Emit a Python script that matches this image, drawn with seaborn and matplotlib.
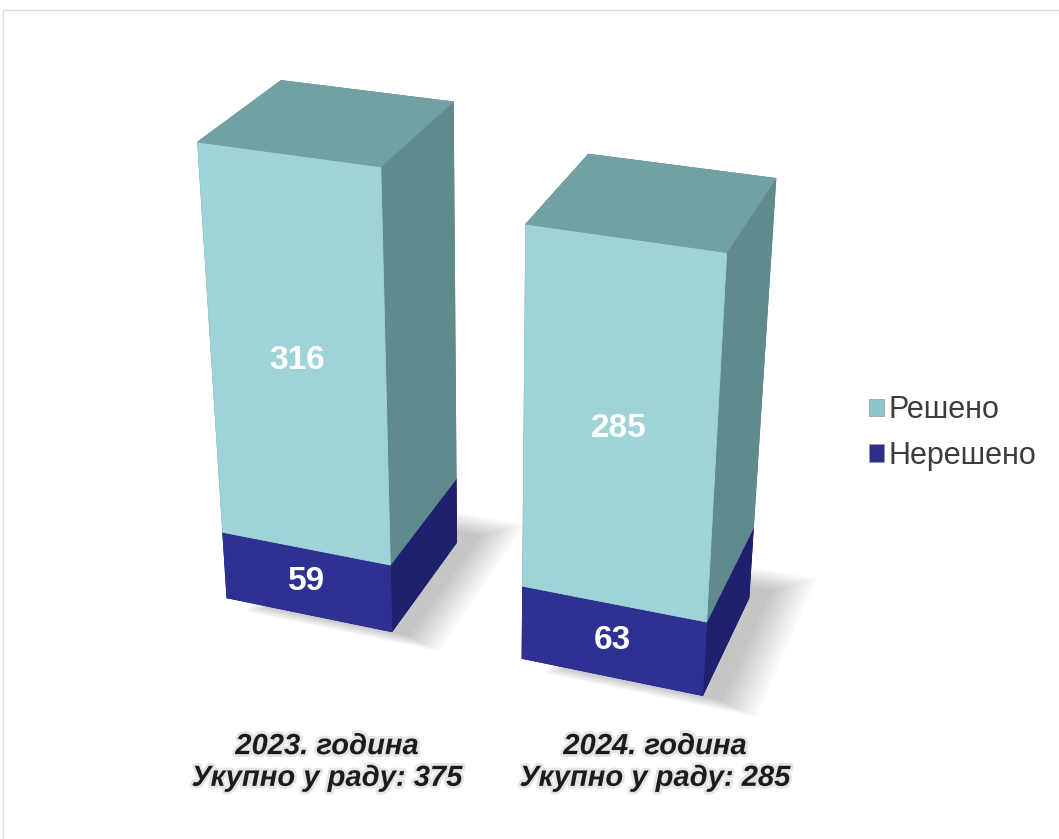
import numpy as np
import matplotlib
matplotlib.use("Agg")
import matplotlib.pyplot as plt
import seaborn as sns
from matplotlib.patches import Patch, Rectangle
import matplotlib.patheffects as pe
from mpl_toolkits.mplot3d import proj3d
from mpl_toolkits.mplot3d.art3d import Poly3DCollection

# --- data ---------------------------------------------------------------
years = ["2023. година", "2024. година"]
totals_in_work = [375, 285]
resolved = [316, 285]
unresolved = [59, 63]
series = ["Решено", "Нерешено"]

# --- style --------------------------------------------------------------
sns.set_theme(style="white")
plt.rcParams["font.family"] = ["Liberation Sans", "DejaVu Sans"]

face_colors = {
    "Решено":   {"front": "#9fd3d8", "top": "#72a1a3", "side": "#5f8b8d"},
    "Нерешено": {"front": "#2e3192", "top": "#34379c", "side": "#1f216f"},
}
legend_colors = {"Решено": "#8cc6ca", "Нерешено": "#2b2e8c"}

fig = plt.figure(figsize=(10.59, 8.39), dpi=100)
fig.patch.set_facecolor("white")

# thin frame around the chart area
fig.patches.append(Rectangle((3 / 1059, -0.02), 1.05, 1 - 10 / 839 + 0.02,
                             transform=fig.transFigure, fill=False,
                             edgecolor="#dcdcdc", linewidth=1.0))

ax = fig.add_axes([-0.05, 0.031, 1.0, 1.0], projection="3d")
ax.set_proj_type("persp", focal_length=0.48)
ax.view_init(elev=27, azim=-70)
ax.computed_zorder = False

bar_w = 0.57
bar_d = 0.57
xs = np.arange(len(years), dtype=float)

# soft floor shadow to the right of each column
for x in xs:
    for k in range(10):
        grow = 0.013 * k
        x0, x1 = x + 0.15 - 0.5 * grow, x + bar_w + 0.06 + grow
        y0, y1 = -0.005 - 0.4 * grow, bar_d + 0.07 + grow
        quad = [[(x0, y0, 0), (x1, y0, 0), (x1, y1, 0), (x0, y1, 0)]]
        sh = Poly3DCollection(quad, facecolor="#000000", edgecolor="none",
                              alpha=0.022)
        sh.set_zorder(1)
        ax.add_collection3d(sh)

bx, by, bz, bdx, bdy, bdz, cols = [], [], [], [], [], [], []
for i, x in enumerate(xs):
    stack = [("Нерешено", 0, unresolved[i]),
             ("Решено", unresolved[i], resolved[i])]
    for name, base, h in stack:
        bx.append(x); by.append(0.0); bz.append(base)
        bdx.append(bar_w); bdy.append(bar_d); bdz.append(h)
        c = face_colors[name]
        # face order: bottom, top, front, back, left, right
        cols += [c["front"], c["top"], c["front"], c["side"], c["side"], c["side"]]

bars = ax.bar3d(bx, by, bz, bdx, bdy, bdz, color=cols, shade=False,
                edgecolor=cols, linewidth=0.6)
bars.set_zorder(5)

zmax = 375
ax.set_xlim(-0.15, 1.72)
ax.set_ylim(0, bar_d)
ax.set_zlim(0, zmax)
ax.set_box_aspect((1.87, bar_d, 1.55), zoom=0.95)
ax.set_xticks([]); ax.set_yticks([]); ax.set_zticks([])
ax.set_axis_off()

# value labels on the front faces, projected into the axes' 2-D space
fig.canvas.draw()
M = ax.get_proj()
for i, x in enumerate(xs):
    for val, zc in ((unresolved[i], unresolved[i] / 2),
                    (resolved[i], unresolved[i] + resolved[i] / 2)):
        px, py, _ = proj3d.proj_transform(x + bar_w / 2, 0, zc, M)
        ax.text2D(px, py, f"{val}", transform=ax.transData,
                  ha="center", va="center", color="white", fontsize=24,
                  fontweight="bold", zorder=10)

# category labels
label_x = [327 / 1059, 655 / 1059]
glow = [pe.withStroke(linewidth=4, foreground="#e6e6e6")]
for i, lx in enumerate(label_x):
    fig.text(lx, 1 - 762 / 839,
             f"{years[i]}\nУкупно у раду: {totals_in_work[i]}",
             ha="center", va="center", fontsize=21, fontweight="bold",
             fontstyle="italic", color="#1c1c1c", linespacing=1.17,
             path_effects=glow)

handles = [Patch(facecolor=legend_colors[s], edgecolor="#9a9a9a",
                 linewidth=0.5, label=s) for s in series]
fig.legend(handles=handles, loc="center left",
           bbox_to_anchor=(0.803, 1 - 433 / 839), frameon=False,
           fontsize=22, labelcolor="#3c3c3c", handlelength=0.5,
           handleheight=0.5, handletextpad=0.15, labelspacing=0.5,
           borderpad=0.1)

fig.savefig("out.png", dpi=100, facecolor="white")
